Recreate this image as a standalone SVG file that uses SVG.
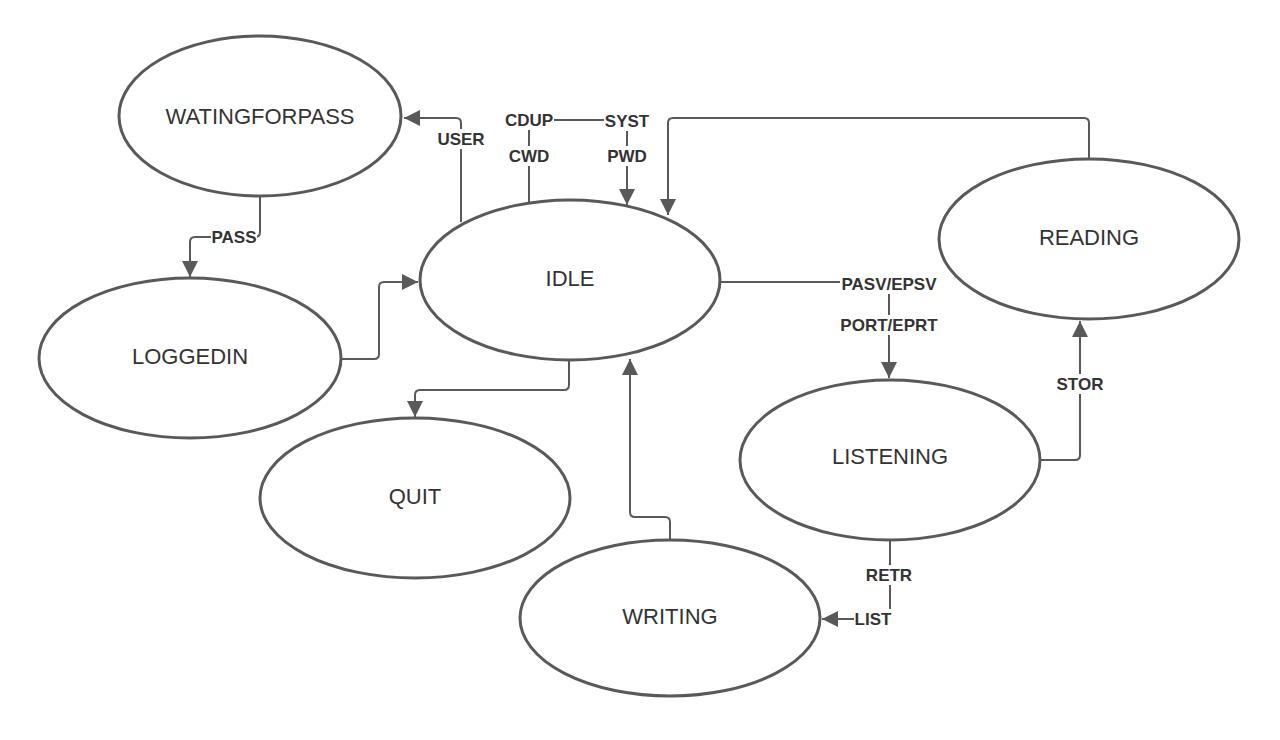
<svg xmlns="http://www.w3.org/2000/svg" width="1280" height="740" viewBox="0 0 1280 740">
<style>
.n{fill:#fff;stroke:#595959;stroke-width:3}
.t{font-family:"Liberation Sans",Arial,sans-serif;font-size:22px;fill:#333;text-anchor:middle;dominant-baseline:central}
.c{fill:none;stroke:#595959;stroke-width:2}
.l{font-family:"Liberation Sans",Arial,sans-serif;font-size:17px;font-weight:bold;fill:#333;text-anchor:middle;dominant-baseline:central}
.bg{fill:#fff}
</style>
<defs>
<marker id="b" viewBox="0 0 10 10" refX="10" refY="5" markerWidth="16" markerHeight="16" markerUnits="userSpaceOnUse" orient="auto"><path d="M0,0L10,5L0,10z" fill="#595959"/></marker>
</defs>
<rect width="1280" height="740" fill="#fff"/>
<g id="connectors">
<path class="c" d="M461,222V123q0,-5 -5,-5H404" marker-end="url(#b)"/>
<path class="c" d="M529,204V120H627V205" marker-end="url(#b)"/>
<path class="c" d="M1089,159V123q0,-5 -5,-5H673q-5,0 -5,5V215" marker-end="url(#b)"/>
<path class="c" d="M260,196V232q0,5 -5,5H195q-5,0 -5,5V277" marker-end="url(#b)"/>
<path class="c" d="M341,359H374q5,0 5,-5V287q0,-5 5,-5H418" marker-end="url(#b)"/>
<path class="c" d="M720,282H889V378" marker-end="url(#b)"/>
<path class="c" d="M569,360V385q0,5 -5,5H420q-5,0 -5,5V417" marker-end="url(#b)"/>
<path class="c" d="M670,540V522q0,-5 -5,-5H635q-5,0 -5,-5V359" marker-end="url(#b)"/>
<path class="c" d="M1040,460H1075q5,0 5,-5V321" marker-end="url(#b)"/>
<path class="c" d="M890,540V619H822" marker-end="url(#b)"/>
<rect class="bg" x="435" y="129" width="52" height="20"/><text class="l" x="461" y="139">USER</text>
<rect class="bg" x="504" y="110" width="50" height="20"/><text class="l" x="529" y="120">CDUP</text>
<rect class="bg" x="508" y="146" width="42" height="20"/><text class="l" x="529" y="156">CWD</text>
<rect class="bg" x="604" y="111" width="46" height="20"/><text class="l" x="627" y="121">SYST</text>
<rect class="bg" x="606" y="146" width="42" height="20"/><text class="l" x="627" y="156">PWD</text>
<rect class="bg" x="211" y="227" width="46" height="20"/><text class="l" x="234" y="237">PASS</text>
<rect class="bg" x="840" y="274" width="98" height="20"/><text class="l" x="889" y="284">PASV/EPSV</text>
<rect class="bg" x="839" y="315" width="100" height="20"/><text class="l" x="889" y="325">PORT/EPRT</text>
<rect class="bg" x="1057" y="374" width="46" height="20"/><text class="l" x="1080" y="384">STOR</text>
<rect class="bg" x="864" y="565" width="50" height="20"/><text class="l" x="889" y="575">RETR</text>
<rect class="bg" x="854" y="609" width="38" height="20"/><text class="l" x="873" y="619">LIST</text>
</g>
<g id="WATINGFORPASS"><ellipse class="n" cx="260" cy="116" rx="141" ry="80"/><text class="t" x="260" y="116">WATINGFORPASS</text></g>
<g id="IDLE"><ellipse class="n" cx="570" cy="280" rx="150" ry="80"/><text class="t" x="570" y="278">IDLE</text></g>
<g id="LOGGEDIN"><ellipse class="n" cx="190" cy="358" rx="151" ry="80"/><text class="t" x="190" y="356">LOGGEDIN</text></g>
<g id="QUIT"><ellipse class="n" cx="415" cy="498" rx="155" ry="80"/><text class="t" x="415" y="496">QUIT</text></g>
<g id="WRITING"><ellipse class="n" cx="670" cy="618" rx="150" ry="78"/><text class="t" x="670" y="616">WRITING</text></g>
<g id="LISTENING"><ellipse class="n" cx="890" cy="460" rx="150" ry="80"/><text class="t" x="890" y="456">LISTENING</text></g>
<g id="READING"><ellipse class="n" cx="1089" cy="239" rx="150" ry="80"/><text class="t" x="1089" y="237">READING</text></g>
</svg>
